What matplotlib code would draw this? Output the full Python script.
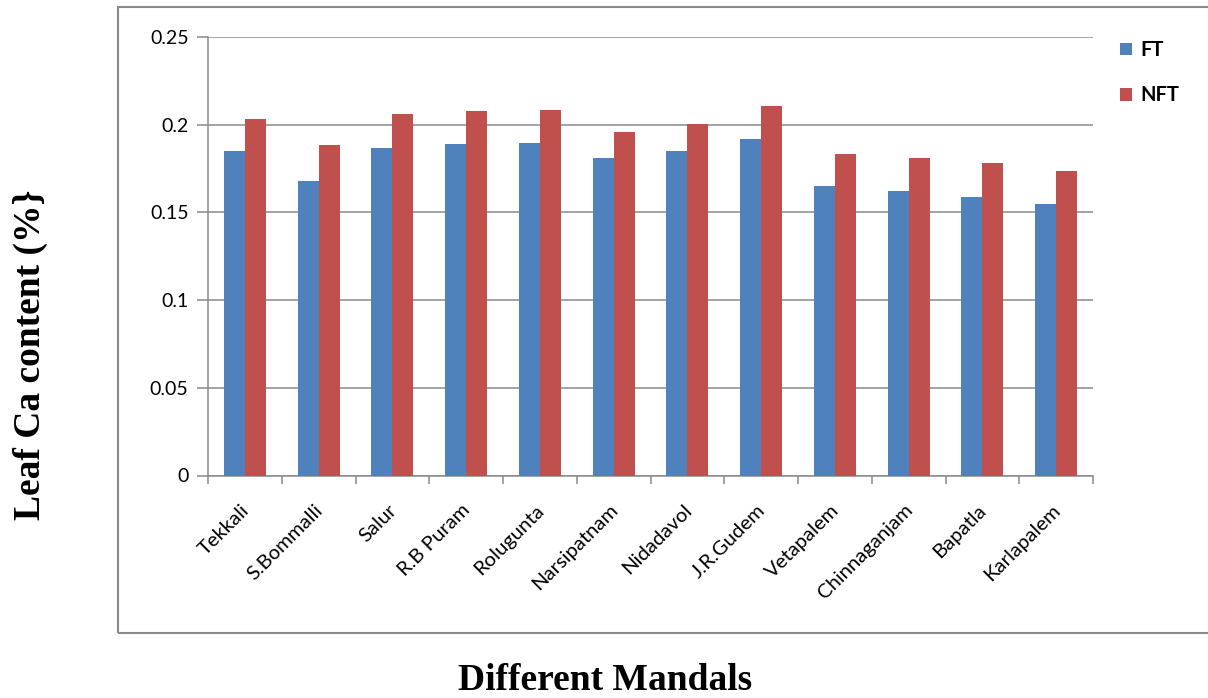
import numpy as np
import matplotlib.pyplot as plt
from matplotlib.patches import Rectangle

# Mandals and leaf Ca content (%)
mandals = ["Tekkali", "S.Bommalli", "Salur", "R.B Puram", "Rolugunta",
           "Narsipatnam", "Nidadavol", "J.R.Gudem", "Vetapalem",
           "Chinnaganjam", "Bapatla", "Karlapalem"]
ft = [0.185, 0.168, 0.187, 0.189, 0.1895, 0.181, 0.185, 0.192, 0.165, 0.162, 0.159, 0.155]
nft = [0.203, 0.1885, 0.206, 0.208, 0.2085, 0.196, 0.2005, 0.2105, 0.1835, 0.181, 0.178, 0.1735]
yticks = [0, 0.05, 0.1, 0.15, 0.2, 0.25]
ytick_labels = ["0", "0.05", "0.1", "0.15", "0.2", "0.25"]

W, H = 1208, 698
fig = plt.figure(figsize=(W / 100, H / 100), dpi=100)
ax = fig.add_axes([208 / W, 1 - 475.5 / H, (1093 - 208) / W, (475.5 - 37) / H])

x = np.arange(len(mandals))
bw = 0.285
ax.bar(x - bw / 2, ft, bw, color="#4F81BD", label="FT", zorder=3)
ax.bar(x + bw / 2, nft, bw, color="#C0504D", label="NFT", zorder=3)

ax.set_xlim(-0.5, len(mandals) - 0.5)
ax.set_ylim(0, 0.25)
ax.set_yticks(yticks)
ax.set_yticklabels(ytick_labels, fontsize=14, family="Lato")
ax.yaxis.grid(True, color="#8a8a8a", linewidth=1.1, zorder=0)

# category boundary ticks on the x axis
ax.set_xticks(np.arange(-0.5, len(mandals), 1.0))
ax.set_xticklabels([])
ax.tick_params(axis="x", length=6, color="#8a8a8a", width=1.1)
ax.tick_params(axis="y", length=8, color="#8a8a8a", width=1.1, pad=6)
for i, name in enumerate(mandals):
    ax.annotate(name, xy=(i, 0), xycoords=("data", "axes fraction"),
                xytext=(1, -23), textcoords="offset points",
                rotation=45, ha="right", va="center", rotation_mode="anchor",
                fontsize=14.6, family="Lato")

for side in ["top", "right"]:
    ax.spines[side].set_visible(False)
for side in ["left", "bottom"]:
    ax.spines[side].set_color("#8a8a8a")
    ax.spines[side].set_linewidth(1.1)

ax.legend(loc="upper left", bbox_to_anchor=(1102 / W, 1 - 22 / H),
          bbox_transform=fig.transFigure, frameon=False,
          handlelength=0.6, handleheight=0.6, handletextpad=0.4,
          labelspacing=1.25, prop={"family": "Lato", "weight": "bold", "size": 14.5})

# outer chart border
fig.patches.append(Rectangle((118 / W, 1 - 633 / H), 1.2, (633 - 7) / H,
                             transform=fig.transFigure, fill=False,
                             edgecolor="#8a8a8a", linewidth=1.5))

fig.text(30 / W, 1 - 355 / H, "Leaf Ca content (%}", rotation=90,
         ha="center", va="center", fontsize=27, fontweight="bold",
         family="Liberation Serif")
fig.text(605 / W, 1 - 680 / H, "Different Mandals", ha="center", va="center",
         fontsize=27, fontweight="bold", family="Liberation Serif")

fig.savefig("out.png", dpi=100)
